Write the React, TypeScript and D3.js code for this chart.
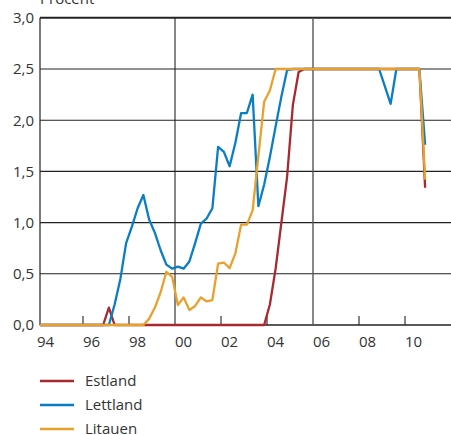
import React from "react";
import * as d3 from "d3";

// Quarterly observations, 1994Q1 .. 2010Q4
const startYear = 1994;
const quarterCount = 68;

const estland: number[] = [
  0, 0, 0, 0, 0, 0, 0, 0, 0, 0, 0, 0,
  0.17,
  0, 0, 0, 0, 0, 0, 0, 0, 0, 0, 0, 0, 0, 0, 0, 0, 0, 0, 0, 0, 0, 0, 0, 0, 0, 0, 0,
  0.2, 0.55, 1.0, 1.45, 2.15, 2.47,
  2.5, 2.5, 2.5, 2.5, 2.5, 2.5, 2.5, 2.5, 2.5, 2.5, 2.5, 2.5, 2.5, 2.5, 2.5, 2.5, 2.5, 2.5, 2.5, 2.5, 2.5,
  1.34,
];

const lettland: number[] = [
  0, 0, 0, 0, 0, 0, 0, 0, 0, 0, 0, 0, 0,
  0.2, 0.45, 0.8, 0.96, 1.14, 1.27, 1.03, 0.9, 0.73, 0.59, 0.55, 0.57, 0.55, 0.62, 0.8, 0.99, 1.04, 1.14,
  1.74, 1.69, 1.55, 1.78, 2.07, 2.07, 2.25, 1.16, 1.37, 1.64, 1.94, 2.23, 2.49,
  2.5, 2.5, 2.5, 2.5, 2.5, 2.5, 2.5, 2.5, 2.5, 2.5, 2.5, 2.5, 2.5, 2.5, 2.5, 2.5,
  2.33, 2.16,
  2.5, 2.5, 2.5, 2.5, 2.5,
  1.76,
];

const litauen: number[] = [
  0, 0, 0, 0, 0, 0, 0, 0, 0, 0, 0, 0, 0, 0, 0, 0, 0, 0, 0,
  0.06, 0.17, 0.32, 0.52, 0.47, 0.195, 0.27, 0.146, 0.186, 0.27, 0.23, 0.244, 0.6, 0.61, 0.555, 0.7,
  0.98, 0.98, 1.12, 1.65, 2.18, 2.29, 2.5,
  2.5, 2.5, 2.5, 2.5, 2.5, 2.5, 2.5, 2.5, 2.5, 2.5, 2.5, 2.5, 2.5, 2.5, 2.5, 2.5, 2.5, 2.5, 2.5, 2.5, 2.5, 2.5, 2.5, 2.5, 2.5,
  1.42,
];

const seriesNames = ["Estland", "Lettland", "Litauen"];
const seriesColors = ["#A8292F", "#0A7EC4", "#E9A12E"];
const yTicks = [0, 0.5, 1, 1.5, 2, 2.5, 3];
const xLabelYears = [1994, 1996, 1998, 2000, 2002, 2004, 2006, 2008, 2010];
const fullLineYears = [2000, 2006];
const yUnit = "Procent";

const W = 451;
const H = 435;
const FONT = "'Open Sans', 'DejaVu Sans', sans-serif";

export default function App() {
  const x = d3.scaleLinear().domain([1994, 2012]).range([37, 451]);
  const y = d3.scaleLinear().domain([0, 3]).range([325, 17.8]);
  const axisLeft = 40;

  const dates = d3.range(quarterCount).map((i) => startYear + 0.125 + i * 0.25);
  const line = d3
    .line<number>()
    .x((_, i) => x(dates[i]))
    .y((v) => y(v));

  const allSeries = [estland, lettland, litauen];
  const fmt = d3.format(".1f");

  return (
    <svg
      width={W}
      height={H}
      style={{ position: "absolute", left: 0, top: 0, background: "#fff" }}
      fontFamily={FONT}
    >
      <text x={40} y={4} fontSize={15} fill="#333">
        {yUnit}
      </text>
      {/* horizontal grid */}
      {yTicks.map((t) => (
        <g key={t}>
          <line
            x1={axisLeft}
            x2={W}
            y1={y(t)}
            y2={y(t)}
            stroke="#222"
            strokeWidth={t === 3 ? 2 : t === 0 ? 1.5 : 1.1}
          />
          <text
            x={34}
            y={y(t)}
            dy="0.36em"
            textAnchor="end"
            fontSize={15}
            fill="#333"
          >
            {fmt(t).replace(".", ",")}
          </text>
        </g>
      ))}
      {/* left axis */}
      <line x1={axisLeft} x2={axisLeft} y1={y(3)} y2={y(0)} stroke="#222" strokeWidth={1.2} />
      {/* vertical full lines */}
      {fullLineYears.map((yr, k) => (
        <line
          key={yr}
          x1={x(yr)}
          x2={x(yr)}
          y1={y(3)}
          y2={y(0)}
          stroke={k === 0 ? "#222" : "#555"}
          strokeWidth={k === 0 ? 1.1 : 1.4}
        />
      ))}
      {/* small ticks */}
      {xLabelYears
        .filter((yr) => yr !== 1994 && !fullLineYears.includes(yr))
        .map((yr) => (
          <line key={yr} x1={x(yr)} x2={x(yr)} y1={y(0)} y2={y(0) - 9} stroke="#222" strokeWidth={1.1} />
        ))}
      {xLabelYears.map((yr) => (
        <text key={yr} x={x(yr)} y={347} fontSize={15} fill="#333">
          {String(yr).slice(2)}
        </text>
      ))}
      {/* series */}
      {allSeries.map((s, k) => (
        <path
          key={seriesNames[k]}
          d={line(s) || ""}
          fill="none"
          stroke={seriesColors[k]}
          strokeWidth={2.3}
          strokeLinejoin="round"
        />
      ))}
      {/* legend */}
      {seriesNames.map((n, k) => (
        <g key={n} transform={`translate(40, ${381 + k * 24})`}>
          <line x1={0} x2={34} y1={0} y2={0} stroke={seriesColors[k]} strokeWidth={2.5} />
          <text x={45} y={0} dy="0.36em" fontSize={15} fill="#333">
            {n}
          </text>
        </g>
      ))}
    </svg>
  );
}
